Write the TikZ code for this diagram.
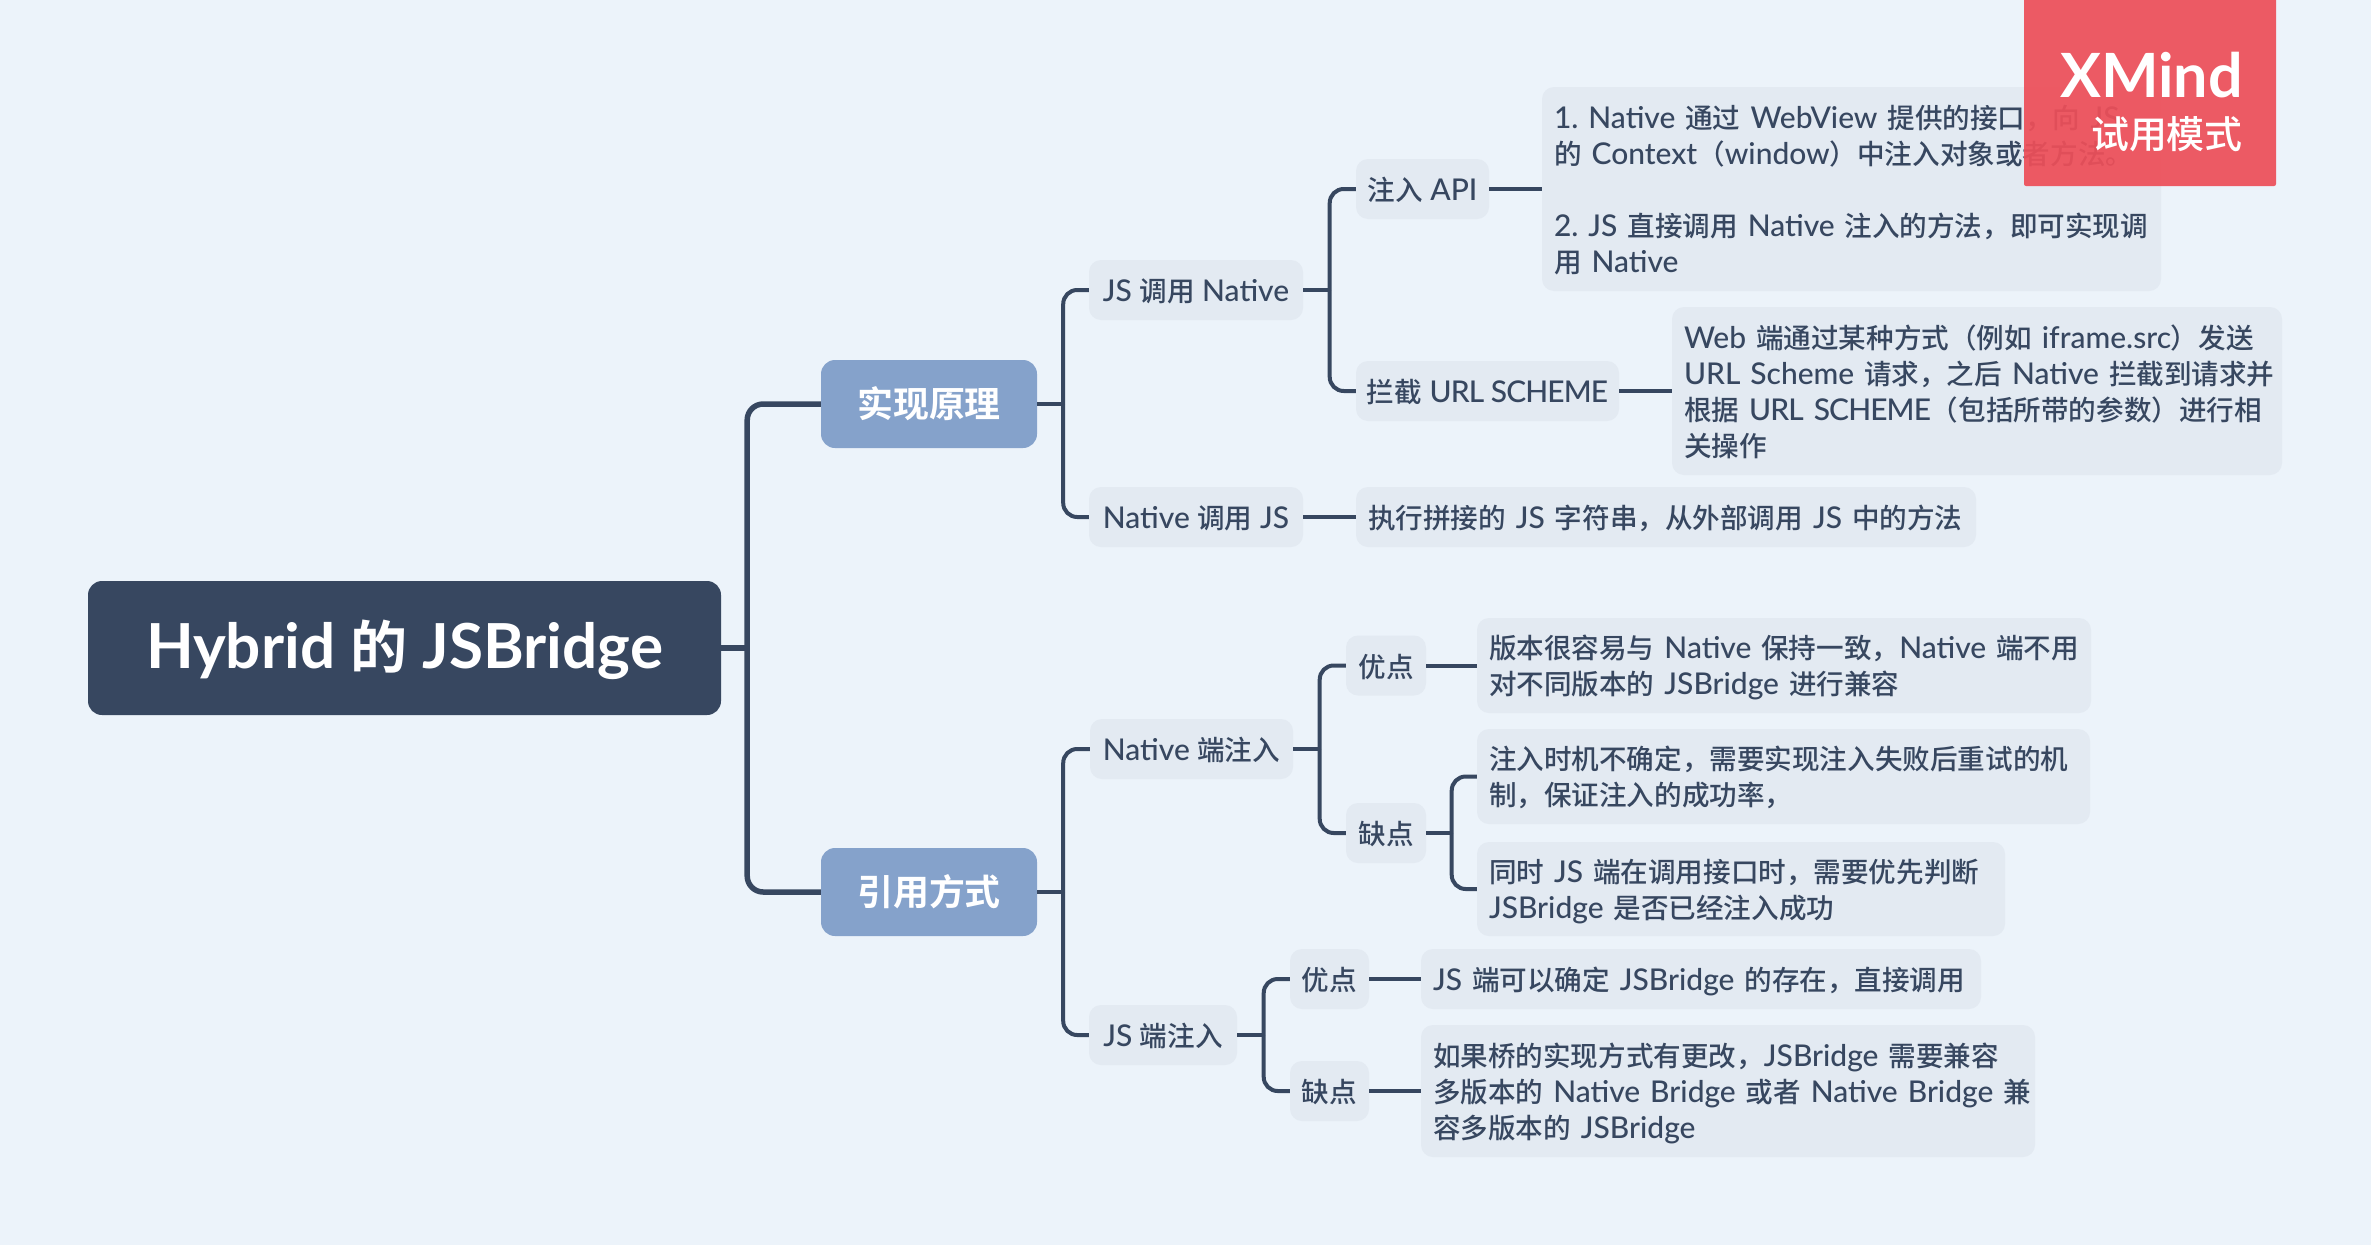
\documentclass[tikz,border=0pt]{standalone}
\usepackage{fontspec}
\setmainfont{Lato Medium}[Scale=1.07,BoldFont={Lato Bold}]
\newfontfamily\latinf{Lato Medium}[Scale=1.07,BoldFont={Lato Bold}]
\newfontfamily\cjkf{Noto Sans CJK SC Medium}[Scale=0.985,BoldFont={Noto Sans CJK SC Bold}]
\AtBeginDocument{\frenchspacing}
\newXeTeXintercharclass\cjkclass
\newcount\cjkcnt
\cjkcnt="3000
\loop\ifnum\cjkcnt<"A000
  \XeTeXcharclass\cjkcnt=\cjkclass
  \advance\cjkcnt by 1
\repeat
\cjkcnt="FF00
\loop\ifnum\cjkcnt<"FFF0
  \XeTeXcharclass\cjkcnt=\cjkclass
  \advance\cjkcnt by 1
\repeat
\XeTeXinterchartoks 0 \cjkclass={\cjkf}
\XeTeXinterchartoks 4095 \cjkclass={\cjkf}
\XeTeXinterchartoks \cjkclass 0={\latinf}
\XeTeXinterchartoks \cjkclass 4095={\latinf}
\XeTeXinterchartokenstate=1
\definecolor{bgc}{HTML}{ECF3FA}
\definecolor{darkc}{HTML}{374760}
\definecolor{mainc}{HTML}{85A2CB}
\definecolor{subc}{HTML}{E3EAF2}
\definecolor{redc}{HTML}{ED4F59}
\newcommand{\lne}[1]{\mbox{\raisebox{-11pt}[0pt][0pt]{#1}}}
\newcommand{\tightcaps}[1]{{\addfontfeature{LetterSpace=-3}#1}}
\tikzset{
  rootnode/.style={fill=darkc,text=white,rounded corners=14pt,inner sep=0pt,font=\fontsize{58}{64}\selectfont\bfseries,minimum width=633pt,minimum height=134pt,text height=40pt,text depth=0pt},
  mainnode/.style={fill=mainc,text=white,rounded corners=14pt,inner sep=0pt,font=\fontsize{36.5}{44}\selectfont\bfseries,minimum width=216pt,minimum height=88pt},
  subnode/.style={fill=subc,text=darkc,rounded corners=12pt,inner sep=0pt,font=\fontsize{28}{36}\selectfont,minimum height=60pt,text height=23pt,text depth=0pt},
  textnode/.style={fill=subc,text=darkc,rounded corners=12pt,inner sep=0pt,font=\fontsize{28}{36}\selectfont,minimum width=#1,text width=#1,align=left,
    execute at begin node={\leftskip=12pt\relax}},
  conn/.style={draw=darkc,line width=4pt,rounded corners=14pt},
  connthick/.style={draw=darkc,line width=5.5pt,rounded corners=16pt},
  stub/.style={draw=darkc,line width=4pt},
  stubthick/.style={draw=darkc,line width=5.5pt},
}
\begin{document}
\begin{tikzpicture}[x=1pt,y=-1pt]
\useasboundingbox (0,0) rectangle (2371,1245);
\fill[bgc] (0,0) rectangle (2371,1245);
\node[rootnode] (root) at (404.5,648) {Hybrid 的 JSBridge};
\node[mainnode] (m1) at (929,404) {实现原理};
\node[mainnode] (m2) at (929,892) {引用方式};
\node[subnode,minimum width=214pt] (a1) at (1196,290) {JS 调用 Native};
\node[subnode,minimum width=214pt] (a2) at (1196,517) {Native 调用 JS};
\node[subnode,minimum width=133pt] (b1) at (1422.5,189) {注入 API};
\node[subnode,minimum width=263pt] (b2) at (1487.5,391) {拦截 \tightcaps{URL SCHEME}};
\node[textnode=619pt,minimum height=204pt] (t1) at (1851.5,189) {\lne{1. Native 通过 WebView 提供的接口，向 JS}\\\lne{的 Context（window）中注入对象或者方法。}\\[36pt]\lne{2. JS 直接调用 Native 注入的方法，即可实现调}\\\lne{用 Native}};
\node[textnode=610pt,minimum height=168pt] (t2) at (1977,391) {\lne{Web 端通过某种方式（例如 iframe.src）发送}\\\lne{URL Scheme 请求，之后 Native 拦截到请求并}\\\lne{根据 \tightcaps{URL SCHEME}（包括所带的参数）进行相}\\\lne{关操作}};
\node[textnode=620pt,minimum height=60pt] (t3) at (1666,517) {\lne{执行拼接的 JS 字符串，从外部调用 JS 中的方法}};
\node[subnode,minimum width=203pt] (a3) at (1191.5,749) {Native 端注入};
\node[subnode,minimum width=148pt] (a4) at (1163,1035) {JS 端注入};
\node[subnode,minimum width=80pt] (c1) at (1386,665.5) {优点};
\node[subnode,minimum width=80pt] (c2) at (1386,833) {缺点};
\node[textnode=614pt,minimum height=95pt] (t4) at (1784,665.5) {\lne{版本很容易与 Native 保持一致，Native 端不用}\\\lne{对不同版本的 JSBridge 进行兼容}};
\node[textnode=613pt,minimum height=95pt] (t5) at (1783.5,776.5) {\lne{注入时机不确定，需要实现注入失败后重试的机}\\\lne{制，保证注入的成功率，}};
\node[textnode=528pt,minimum height=94pt] (t6) at (1741,889) {\lne{同时 JS 端在调用接口时，需要优先判断}\\\lne{JSBridge 是否已经注入成功}};
\node[subnode,minimum width=79pt] (c3) at (1329.5,979) {优点};
\node[subnode,minimum width=79pt] (c4) at (1329.5,1091) {缺点};
\node[textnode=560pt,minimum height=60pt] (t7) at (1701,979) {\lne{JS 端可以确定 JSBridge 的存在，直接调用}};
\node[textnode=614pt,minimum height=132pt] (t8) at (1728,1091) {\lne{如果桥的实现方式有更改，JSBridge 需要兼容}\\\lne{多版本的 Native Bridge 或者 Native Bridge 兼}\\\lne{容多版本的 JSBridge}};
\draw[stubthick] (root.east) -- ++(26,0) coordinate (j0);
\draw[connthick] (j0) |- (m1.west);
\draw[connthick] (j0) |- (m2.west);
\draw[stub] (m1.east) -- ++(26,0) coordinate (j1);
\draw[conn] (j1) |- (a1.west);
\draw[conn] (j1) |- (a2.west);
\draw[stub] (m2.east) -- ++(26,0) coordinate (j2);
\draw[conn] (j2) |- (a3.west);
\draw[conn] (j2) |- (a4.west);
\draw[stub] (a1.east) -- ++(26.5,0) coordinate (j3);
\draw[conn] (j3) |- (b1.west);
\draw[conn] (j3) |- (b2.west);
\draw[stub] (a2.east) -- (t3.west);
\draw[stub] (b1.east) -- (t1.west);
\draw[stub] (b2.east) -- (t2.west);
\draw[stub] (a3.east) -- ++(26.5,0) coordinate (j4);
\draw[conn] (j4) |- (c1.west);
\draw[conn] (j4) |- (c2.west);
\draw[stub] (c1.east) -- (t4.west);
\draw[stub] (c2.east) -- ++(25.5,0) coordinate (j5);
\draw[conn] (j5) |- (t5.west);
\draw[conn] (j5) |- (t6.west);
\draw[stub] (a4.east) -- ++(26.5,0) coordinate (j6);
\draw[conn] (j6) |- (c3.west);
\draw[conn] (j6) |- (c4.west);
\draw[stub] (c3.east) -- (t7.west);
\draw[stub] (c4.east) -- (t8.west);
\fill[redc,fill opacity=.93,rounded corners=2pt] (2024,-6) rectangle (2276,186);
\node[text=white,font=\fontsize{57}{60}\selectfont\bfseries,anchor=base east,inner sep=0pt] (x1) at (2243,97) {XMind};
\node[text=white,font=\fontsize{38.5}{44}\selectfont,anchor=base east,inner sep=0pt] (x2) at (2243,148) {试用模式};
\end{tikzpicture}
\end{document}
